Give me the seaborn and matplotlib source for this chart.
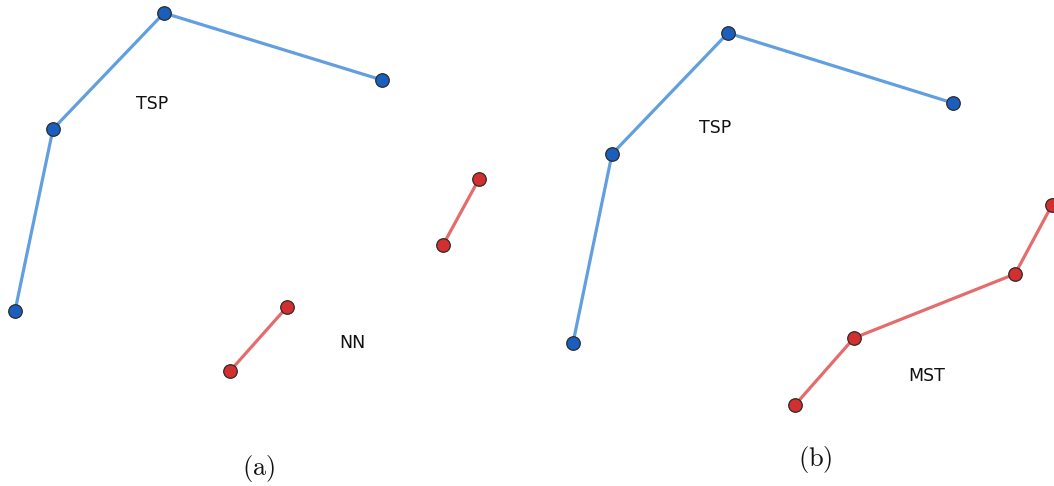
import matplotlib
matplotlib.use("Agg")
import matplotlib.pyplot as plt
import seaborn as sns
import pandas as pd

sns.set_theme(style="white")
plt.rcParams["font.family"] = ["DejaVu Sans"]
plt.rcParams["mathtext.fontset"] = "cm"

# Panel (a): TSP path and nearest-neighbour segments
tsp_a_x = [15, 53, 164, 382]
tsp_a_y = [311, 129, 13, 80]
nn_x = [230, 287, 443, 479]
nn_y = [371, 307, 245, 179]
nn_seg = [0, 0, 1, 1]

# Panel (b): TSP path and minimum spanning tree
tsp_b_x = [46, 85, 201, 426]
tsp_b_y = [343, 154, 33, 103]
mst_x = [268, 327, 488, 525]
mst_y = [405, 338, 274, 205]

BLUE_LINE = "#619fe0"
BLUE_PT = "#1a5fbd"
RED_LINE = "#e46c6c"
RED_PT = "#d42f2f"
EDGE = "#2b2b2b"

W, H = 1054, 486
fig = plt.figure(figsize=(W / 100, H / 100), dpi=100)
ax_a = fig.add_axes([0, 0, 527 / W, 1])
ax_b = fig.add_axes([527 / W, 0, 527 / W, 1])


def draw_path(ax, x, y, line_col, pt_col, units=None):
    df = pd.DataFrame({"x": x, "y": y, "u": units if units is not None else [0] * len(x)})
    sns.lineplot(data=df, x="x", y="y", units="u", estimator=None, sort=False,
                 color=line_col, lw=2.3, ax=ax, zorder=2)
    sns.scatterplot(data=df, x="x", y="y", color=pt_col, s=95, edgecolor=EDGE,
                    linewidth=0.9, ax=ax, zorder=3)


draw_path(ax_a, tsp_a_x, tsp_a_y, BLUE_LINE, BLUE_PT)
draw_path(ax_a, nn_x, nn_y, RED_LINE, RED_PT, units=nn_seg)
draw_path(ax_b, tsp_b_x, tsp_b_y, BLUE_LINE, BLUE_PT)
draw_path(ax_b, mst_x, mst_y, RED_LINE, RED_PT)

label_kw = dict(fontsize=12.5, ha="center", va="center", color="#111111")
ax_a.text(152, 104, "TSP", **label_kw)
ax_a.text(352, 343, "NN", **label_kw)
ax_b.text(188, 128, "TSP", **label_kw)
ax_b.text(400, 376, "MST", **label_kw)

cap_kw = dict(fontsize=19, ha="center", va="center", color="#111111")
ax_a.text(259, 468, r"$\mathrm{(a)}$", **cap_kw)
ax_b.text(288, 459, r"$\mathrm{(b)}$", **cap_kw)

for ax in (ax_a, ax_b):
    ax.set_xlim(0, 527)
    ax.set_ylim(H, 0)
    ax.set_axis_off()

fig.savefig("out.png", dpi=100, facecolor="white")
